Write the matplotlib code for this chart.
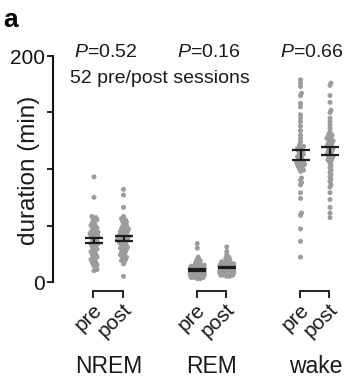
import numpy as np
import matplotlib
matplotlib.use("Agg")
import matplotlib.pyplot as plt

plt.rcParams['font.family'] = ['Liberation Sans', 'DejaVu Sans']
plt.rcParams['mathtext.fontset'] = 'custom'
plt.rcParams['mathtext.it'] = 'Liberation Sans:italic'
plt.rcParams['mathtext.rm'] = 'Liberation Sans'

# ---- data ----
states = ["NREM", "REM", "wake"]
conditions = ["pre", "post"]
p_values = ["0.52", "0.16", "0.66"]
note = "52 pre/post sessions"

nrem_pre = [93, 75, 58, 57, 56, 55, 54, 52, 51, 50, 49, 48, 47, 46, 45, 44, 43, 42, 41, 40,
            40, 39, 38, 37, 36, 35, 34, 34, 33, 32, 31, 30, 29, 28, 27, 26, 25, 24, 23, 22,
            21, 20, 19, 18, 17, 16, 15, 14, 42, 44, 11, 10]
nrem_post = [82, 77, 66, 58, 56, 55, 54, 53, 52, 50, 49, 48, 47, 46, 45, 44, 43, 42, 41, 40,
             39, 38, 38, 37, 36, 35, 34, 33, 32, 31, 30, 30, 29, 28, 27, 26, 25, 24, 23, 22,
             21, 20, 19, 18, 16, 47, 42, 38, 35, 5, 45, 40]
rem_pre = [34, 30, 22, 20, 19, 18, 17, 16, 15, 15, 14, 14, 13, 13, 12, 12, 12, 11, 11, 11,
           10, 10, 10, 10, 9, 9, 9, 9, 8, 8, 8, 8, 7, 7, 7, 7, 6, 6, 6, 6,
           5, 5, 5, 5, 4, 4, 4, 3, 3, 15, 10, 12]
rem_post = [31, 27, 24, 22, 21, 20, 19, 18, 17, 17, 16, 16, 15, 15, 14, 14, 14, 13, 13, 13,
            12, 12, 12, 12, 11, 11, 11, 11, 10, 10, 10, 10, 9, 9, 9, 9, 8, 8, 8, 8,
            7, 7, 7, 6, 6, 6, 5, 5, 16, 15, 13, 12]
wake_pre = [179, 176, 173, 167, 165, 158, 155, 148, 145, 142, 134, 127, 124, 121, 120, 119, 118, 117, 116, 115,
            114, 113, 112, 111, 110, 109, 108, 107, 106, 105, 104, 103, 102, 101, 100, 99, 98, 106, 104, 92,
            90, 88, 86, 79, 74, 61, 59, 47, 36, 22, 130, 138]
wake_post = [176, 174, 165, 159, 152, 150, 145, 142, 139, 136, 133, 131, 130, 129, 128, 127, 126, 125, 124, 123,
             122, 121, 120, 119, 118, 117, 116, 115, 114, 113, 112, 111, 110, 109, 108, 107, 105, 103, 101, 99,
             97, 95, 93, 91, 89, 86, 84, 79, 73, 66, 61, 57]

groups = [(nrem_pre, nrem_post), (rem_pre, rem_post), (wake_pre, wake_post)]

# ---- layout ----
W, H = 347, 383
fig = plt.figure(figsize=(W / 100, H / 100), dpi=100)
ax_left, ax_bottom, ax_top, ax_right = 53, 282, 56, 347
ax = fig.add_axes([ax_left / W, (H - ax_bottom) / H, (ax_right - ax_left) / W, (ax_bottom - ax_top) / H])

pxu = 29.5  # pixels per x unit
x0_px = 94
ax.set_xlim((ax_left - x0_px) / pxu, (ax_right - x0_px) / pxu)
ax.set_ylim(0, 200)
pyu = (ax_bottom - ax_top) / 200.0

group_centers = [0.5, 4.0, 7.5]
dot_color = '#9c9c9c'
bar_color = '#1c1c1c'


def swarm_offsets(vals, dmin=2.3, step=1.0, maxoff=7.0):
    vals = np.asarray(vals, float)
    ypx = vals * pyu
    order = np.argsort(ypx)
    placed = []
    offs = np.zeros(len(vals))
    cands = [0.0]
    j = 1
    while j * step <= maxoff:
        cands += [j * step, -j * step]
        j += 1
    for i in order:
        best, bestd = 0.0, -1
        for c in cands:
            dmin_here = min([np.hypot(px - c, py - ypx[i]) for (px, py) in placed] or [99])
            if dmin_here >= dmin:
                best = c
                bestd = dmin_here
                break
            if dmin_here > bestd:
                best, bestd = c, dmin_here
        offs[i] = best
        placed.append((best, ypx[i]))
    return offs / pxu


for gi, (pre, post) in enumerate(groups):
    c = group_centers[gi]
    for xi, vals in ((c - 0.5, pre), (c + 0.5, post)):
        vals = np.asarray(vals, float)
        xo = swarm_offsets(vals)
        ax.scatter(xi + xo, vals, s=13, color=dot_color, edgecolors='none', zorder=2, clip_on=False)
        m = vals.mean()
        sem = vals.std(ddof=1) / np.sqrt(len(vals))
        ax.errorbar([xi], [m], yerr=[sem], fmt='none', ecolor=bar_color, elinewidth=1.5,
                    capsize=6.5, capthick=1.6, zorder=3)
    # bracket
    yb1 = (ax_bottom - 291) / pyu
    yb2 = (ax_bottom - 297) / pyu
    ax.plot([c - 0.52, c - 0.52, c + 0.48, c + 0.48], [yb2, yb1, yb1, yb2], color='#222222',
            lw=1.4, clip_on=False, solid_joinstyle='miter')
    # rotated condition labels
    ylab = (ax_bottom - 300) / pyu
    for dx, lab in ((-0.5, "pre"), (0.5, "post")):
        ax.text(c + dx - 0.05, ylab, lab, rotation=45, rotation_mode='anchor',
                ha='right', va='top', fontsize=15, color='#1a1a1a')
    # state label
    ax.text(c, (ax_bottom - 373) / pyu, states[gi], ha='center', va='baseline',
            fontsize=16.5, color='#1a1a1a')
    # P value
    ax.text(c - 0.12, (ax_bottom - 57) / pyu, r"$P$=" + p_values[gi], ha='center', va='baseline',
            fontsize=14, color='#1a1a1a', clip_on=False)

ax.text((70 - x0_px) / pxu, (ax_bottom - 83) / pyu, note, ha='left', va='baseline',
        fontsize=14, color='#1a1a1a')

# axes styling
for s in ('top', 'right', 'bottom'):
    ax.spines[s].set_visible(False)
ax.spines['left'].set_linewidth(1.5)
ax.spines['left'].set_color('#111111')
ax.set_xticks([])
ax.set_yticks([0, 50, 100, 150, 200])
ax.set_yticklabels(['0', '', '', '', '200'])
ax.tick_params(axis='y', length=4, width=1.3, pad=1.5, labelsize=15, colors='#111111')
ax.patch.set_alpha(0)

fig.text(29 / W, 1 - 170 / H, 'duration (min)', rotation=90, ha='center', va='center',
         fontsize=17.5, color='#1a1a1a')
fig.text(3 / W, 1 - 27 / H, 'a', fontsize=19, fontweight='bold', ha='left', va='baseline')

fig.savefig('out.png', dpi=100)
